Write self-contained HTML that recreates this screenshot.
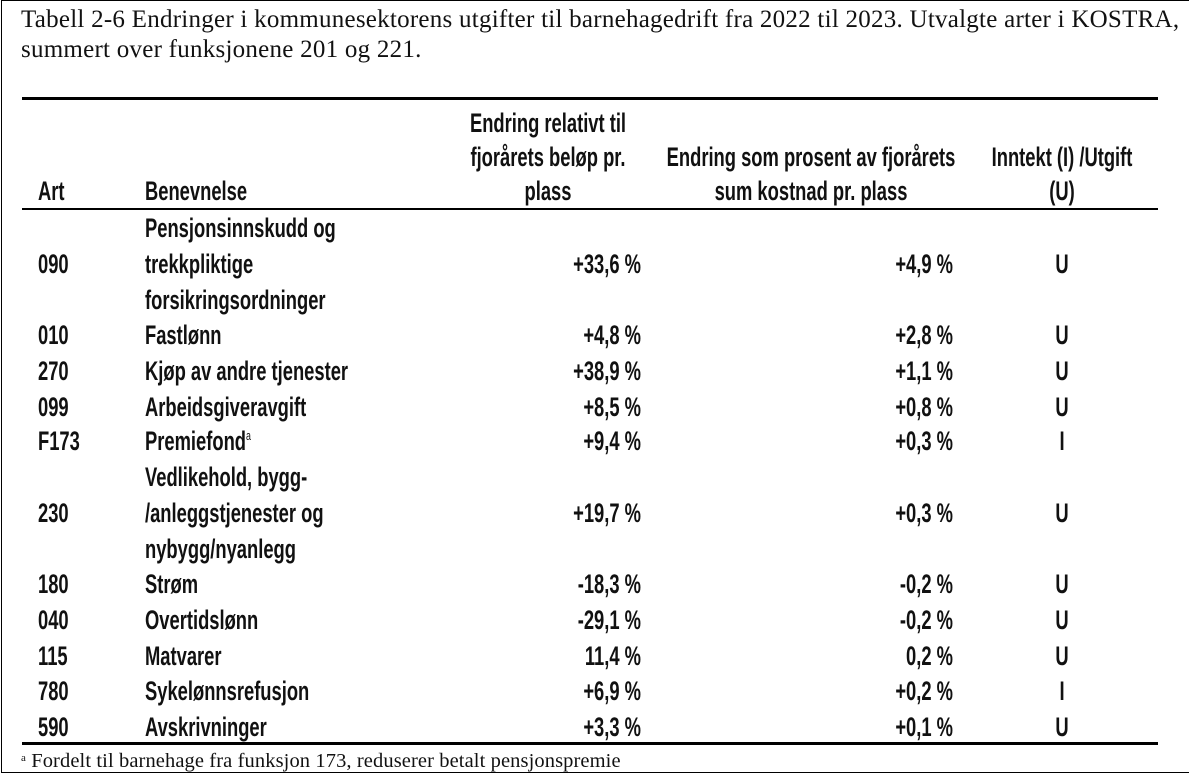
<!DOCTYPE html>
<html><head><meta charset="utf-8"><style>
html,body{margin:0;padding:0;background:#fff;width:1189px;height:775px;overflow:hidden;position:relative}
.frame{position:absolute;left:1px;top:0;width:1200px;height:773px;border:1px solid #000;box-sizing:border-box}
.s{position:absolute;font-family:"Liberation Serif",serif;font-size:25px;letter-spacing:0.25px;color:#111;white-space:nowrap;line-height:30px}
.t{position:absolute;font-family:"Liberation Sans",sans-serif;font-weight:bold;font-size:27px;color:#111;white-space:nowrap;line-height:36px;height:36px;transform:scaleX(0.68);transform-origin:left center}
.r{text-align:right;transform-origin:right center}.c{text-align:center;transform-origin:center center}
.rule{position:absolute;left:22px;width:1136px;background:#000}
</style></head><body>
<div class="frame"></div>
<div class="s" style="left:21px;top:5px">Tabell 2-6 Endringer i kommunesektorens utgifter til barnehagedrift fra 2022 til 2023. Utvalgte arter i KOSTRA,</div>
<div class="s" style="left:21px;top:35px">summert over funksjonene 201 og 221.</div>
<div class="rule" style="top:97px;height:3px"></div>
<div class="rule" style="top:208px;height:2px"></div>
<div class="rule" style="top:742px;height:3px"></div>

<div class="t c" style="left:398px;width:300px;top:105px">Endring relativt til</div>
<div class="t c" style="left:398px;width:300px;top:139px">fjorårets beløp pr.</div>
<div class="t c" style="left:398px;width:300px;top:173px">plass</div>
<div class="t c" style="left:561px;width:500px;top:139px">Endring som prosent av fjorårets</div>
<div class="t c" style="left:561px;width:500px;top:173px">sum kostnad pr. plass</div>
<div class="t c" style="left:912px;width:300px;top:139px">Inntekt (I) /Utgift</div>
<div class="t c" style="left:912px;width:300px;top:173px">(U)</div>
<div class="t" style="left:38px;top:173px">Art</div>
<div class="t" style="left:145px;top:173px">Benevnelse</div>

<div class="t" style="left:145px;top:210px">Pensjonsinnskudd og</div>
<div class="t" style="left:145px;top:282px">forsikringsordninger</div>
<div class="t" style="left:145px;top:459px">Vedlikehold, bygg-</div>
<div class="t" style="left:145px;top:531px">nybygg/nyanlegg</div>

<div class="t" style="left:38px;top:246px">090</div><div class="t" style="left:145px;top:246px">trekkpliktige</div><div class="t r" style="left:441px;width:200px;top:246px">+33,6 %</div><div class="t r" style="left:753px;width:200px;top:246px">+4,9 %</div><div class="t c" style="left:1012px;width:100px;top:246px">U</div>
<div class="t" style="left:38px;top:317px">010</div><div class="t" style="left:145px;top:317px">Fastlønn</div><div class="t r" style="left:441px;width:200px;top:317px">+4,8 %</div><div class="t r" style="left:753px;width:200px;top:317px">+2,8 %</div><div class="t c" style="left:1012px;width:100px;top:317px">U</div>
<div class="t" style="left:38px;top:353px">270</div><div class="t" style="left:145px;top:353px">Kjøp av andre tjenester</div><div class="t r" style="left:441px;width:200px;top:353px">+38,9 %</div><div class="t r" style="left:753px;width:200px;top:353px">+1,1 %</div><div class="t c" style="left:1012px;width:100px;top:353px">U</div>
<div class="t" style="left:38px;top:389px">099</div><div class="t" style="left:145px;top:389px">Arbeidsgiveravgift</div><div class="t r" style="left:441px;width:200px;top:389px">+8,5 %</div><div class="t r" style="left:753px;width:200px;top:389px">+0,8 %</div><div class="t c" style="left:1012px;width:100px;top:389px">U</div>
<div class="t" style="left:38px;top:423px">F173</div><div class="t" style="left:145px;top:423px">Premiefond<sup style="font-size:13px;vertical-align:10px;line-height:0;font-weight:normal">a</sup></div><div class="t r" style="left:441px;width:200px;top:423px">+9,4 %</div><div class="t r" style="left:753px;width:200px;top:423px">+0,3 %</div><div class="t c" style="left:1012px;width:100px;top:423px">I</div>
<div class="t" style="left:38px;top:495px">230</div><div class="t" style="left:145px;top:495px">/anleggstjenester og</div><div class="t r" style="left:441px;width:200px;top:495px">+19,7 %</div><div class="t r" style="left:753px;width:200px;top:495px">+0,3 %</div><div class="t c" style="left:1012px;width:100px;top:495px">U</div>
<div class="t" style="left:38px;top:566px">180</div><div class="t" style="left:145px;top:566px">Strøm</div><div class="t r" style="left:441px;width:200px;top:566px">-18,3 %</div><div class="t r" style="left:753px;width:200px;top:566px">-0,2 %</div><div class="t c" style="left:1012px;width:100px;top:566px">U</div>
<div class="t" style="left:38px;top:602px">040</div><div class="t" style="left:145px;top:602px">Overtidslønn</div><div class="t r" style="left:441px;width:200px;top:602px">-29,1 %</div><div class="t r" style="left:753px;width:200px;top:602px">-0,2 %</div><div class="t c" style="left:1012px;width:100px;top:602px">U</div>
<div class="t" style="left:38px;top:638px">115</div><div class="t" style="left:145px;top:638px">Matvarer</div><div class="t r" style="left:441px;width:200px;top:638px">11,4 %</div><div class="t r" style="left:753px;width:200px;top:638px">0,2 %</div><div class="t c" style="left:1012px;width:100px;top:638px">U</div>
<div class="t" style="left:38px;top:673px">780</div><div class="t" style="left:145px;top:673px">Sykelønnsrefusjon</div><div class="t r" style="left:441px;width:200px;top:673px">+6,9 %</div><div class="t r" style="left:753px;width:200px;top:673px">+0,2 %</div><div class="t c" style="left:1012px;width:100px;top:673px">I</div>
<div class="t" style="left:38px;top:709px">590</div><div class="t" style="left:145px;top:709px">Avskrivninger</div><div class="t r" style="left:441px;width:200px;top:709px">+3,3 %</div><div class="t r" style="left:753px;width:200px;top:709px">+0,1 %</div><div class="t c" style="left:1012px;width:100px;top:709px">U</div>

<div class="s" style="left:21px;top:745px;font-size:20.5px;line-height:26px;letter-spacing:0.1px"><span style="font-size:11px;vertical-align:6px">a</span> Fordelt til barnehage fra funksjon 173, reduserer betalt pensjonspremie</div>
</body></html>
